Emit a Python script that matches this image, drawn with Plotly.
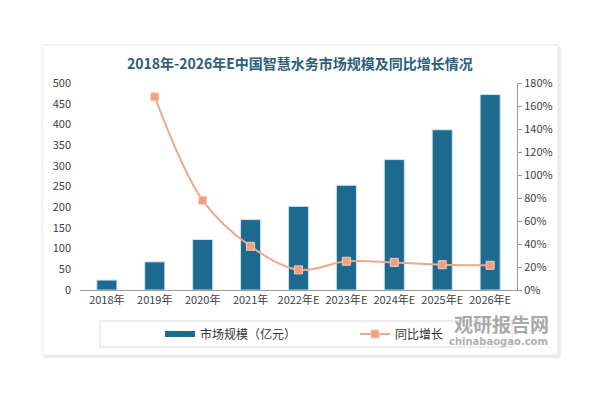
import plotly.graph_objects as go

categories = ["2018年", "2019年", "2020年", "2021年", "2022年E", "2023年E", "2024年E", "2025年E", "2026年E"]
market_size = [24, 68, 122, 170, 202, 253, 315, 387, 472]
growth_pct = [None, 168, 78, 38, 17.5, 25, 24, 22, 21.5]
left_ticks = [0, 50, 100, 150, 200, 250, 300, 350, 400, 450, 500]
right_ticks = [0, 20, 40, 60, 80, 100, 120, 140, 160, 180]

FONT = "Noto Sans CJK SC"
W, H = 600, 397
OFF = 8  # page offset of the figure inside the browser window
# plot area in page pixels
PL, PR, PT, PB = 80, 517, 83, 290
L = PL - OFF
T = PT - OFF
R = W - (PR - OFF)
B = H - (PB - OFF)
pw = PR - PL
ph = PB - PT

def px(x):
    return (x - PL) / pw

def py(y):
    return (PB - y) / ph

BAR_COLOR = "#1c6a8e"

fig = go.Figure()
fig.add_trace(go.Bar(
    x=categories, y=market_size, name="市场规模（亿元）", showlegend=False,
    marker=dict(color=BAR_COLOR, line=dict(color="#cfe5f0", width=1)),
    width=0.42, yaxis="y",
))
# legend entry for bars (drawn as a thick line like the reference legend key)
fig.add_trace(go.Scatter(
    x=[None], y=[None], name="市场规模（亿元）", mode="lines",
    line=dict(color=BAR_COLOR, width=6), yaxis="y", hoverinfo="skip",
))
fig.add_trace(go.Scatter(
    x=categories, y=growth_pct, name="同比增长", yaxis="y2",
    mode="lines+markers", line=dict(color="#eaa98b", width=2, shape="spline", smoothing=1.0),
    marker=dict(symbol="square", size=8, color="#f0a07c", line=dict(color="#f8cdb8", width=1)),
    connectgaps=False,
))

shapes = [
    dict(type="rect", xref="paper", yref="paper", x0=px(44), x1=px(561), y0=py(358), y1=py(47),
         line=dict(width=0), fillcolor="#ececec", layer="below"),
    dict(type="rect", xref="paper", yref="paper", x0=px(42), x1=px(558), y0=py(355), y1=py(45),
         line=dict(color="#e6e6e6", width=1), fillcolor="#ffffff", layer="below"),
    dict(type="rect", xref="paper", yref="paper", x0=px(100), x1=px(512), y0=py(347), y1=py(321),
         line=dict(color="#dcdcdc", width=1), fillcolor="rgba(0,0,0,0)", layer="below"),
]

annotations = [
    dict(text="<b>2018年-2026年E中国智慧水务市场规模及同比增长情况</b>", xref="paper", yref="paper",
         x=px(300), y=py(63), xanchor="center", yanchor="middle", showarrow=False,
         font=dict(family=FONT, size=14, color="#2b5d7c")),
    dict(text="<b>观研报告网</b>", xref="paper", yref="paper", x=px(551), y=py(323),
         xanchor="right", yanchor="middle", showarrow=False,
         font=dict(family=FONT, size=19, color="#a9a9a9")),
    dict(text="<b>chinabaogao.com</b>", xref="paper", yref="paper", x=px(550), y=py(341),
         xanchor="right", yanchor="middle", showarrow=False,
         font=dict(family="DejaVu Sans", size=10, color="#b0b0b0")),
]

fig.update_layout(
    width=W, height=H,
    margin=dict(l=L, r=R, t=T, b=B, pad=0),
    paper_bgcolor="#ffffff", plot_bgcolor="#f3f3f3",
    font=dict(family=FONT, size=11, color="#404040"),
    showlegend=True,
    legend=dict(orientation="h", x=px(160), y=py(334), xanchor="left", yanchor="middle",
                font=dict(family=FONT, size=12, color="#333333"),
                bgcolor="rgba(0,0,0,0)", entrywidth=150, entrywidthmode="pixels",
                itemwidth=30, traceorder="normal"),
    xaxis=dict(type="category", showgrid=False, showline=True, linecolor="#9a9a9a", linewidth=1,
               ticks="", tickfont=dict(size=11, color="#404040"), zeroline=False),
    yaxis=dict(range=[0, 500], tickvals=left_ticks, showgrid=False, showline=False, zeroline=False,
               ticks="", tickfont=dict(size=11, color="#404040"), ticklabelstandoff=8),
    yaxis2=dict(range=[0, 180], tickvals=right_ticks, ticktext=[f"{v}%" for v in right_ticks],
                overlaying="y", side="right", showgrid=False, showline=True, linecolor="#9a9a9a",
                linewidth=1, ticks="outside", ticklen=4, tickcolor="#9a9a9a", zeroline=False,
                tickfont=dict(size=11, color="#404040")),
    shapes=shapes, annotations=annotations,
)

fig.write_html("out.html")
